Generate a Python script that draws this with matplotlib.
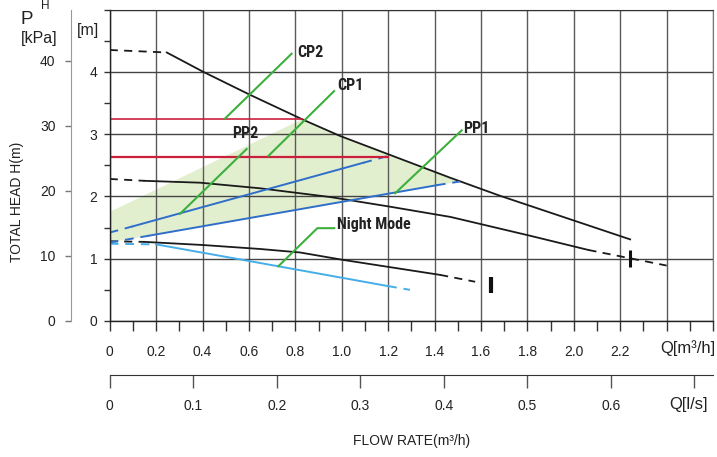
import matplotlib
matplotlib.use('Agg')
import matplotlib.pyplot as plt
from matplotlib.ticker import FixedLocator
from matplotlib import font_manager

# ---------------- data ----------------
# maximum speed curve
max_dash_q = [0.0, 0.246]
max_dash_h = [4.35, 4.31]
max_q = [0.246, 0.403, 0.605, 0.834, 0.993, 1.467, 1.682, 2.243]
max_h = [4.31, 4.00, 3.63, 3.23, 2.97, 2.30, 2.01, 1.31]

# medium speed curve
mid_dash_q = [0.0, 0.15]
mid_dash_h = [2.28, 2.25]
mid_q = [0.15, 0.39, 0.648, 0.95, 1.20, 1.469, 1.81, 2.063]
mid_h = [2.25, 2.22, 2.13, 1.99, 1.84, 1.67, 1.37, 1.14]
mid_tail_q = [2.063, 2.40]
mid_tail_h = [1.14, 0.89]

# minimum speed curve
low_dash_q = [0.0, 0.15]
low_dash_h = [1.28, 1.27]
low_q = [0.15, 0.40, 0.648, 0.82, 1.007, 1.424]
low_h = [1.27, 1.22, 1.156, 1.10, 0.98, 0.74]
low_tail_q = [1.424, 1.575]
low_tail_h = [0.74, 0.63]

# PP2 (proportional pressure 2)
pp2_dash1_q = [0.0, 0.10]
pp2_dash1_h = [1.42, 1.52]
pp2_q = [0.10, 1.093]
pp2_h = [1.52, 2.54]
pp2_dash2_q = [1.093, 1.20]
pp2_dash2_h = [2.54, 2.65]

# PP1 (proportional pressure 1)
pp1_dash1_q = [0.0, 0.17]
pp1_dash1_h = [1.26, 1.37]
pp1_q = [0.17, 1.41]
pp1_h = [1.37, 2.18]
pp1_dash2_q = [1.41, 1.51]
pp1_dash2_h = [2.18, 2.24]

# Night mode
night_dash1_q = [0.0, 0.20]
night_dash1_h = [1.24, 1.23]
night_q = [0.20, 0.605, 1.20]
night_h = [1.23, 0.96, 0.56]
night_dash2_q = [1.20, 1.294]
night_dash2_h = [0.56, 0.50]

# constant pressure lines
cp2_q = [0.0, 0.83]
cp2_h = [3.24, 3.24]
cp1_q = [0.0, 1.20]
cp1_h = [2.64, 2.64]

# shaded operating region
area_q = [0.0, 1.51, 1.467, 0.993, 0.83, 0.0]
area_h = [1.26, 2.24, 2.30, 2.97, 3.24, 1.75]

# end markers
mark_q = [1.642, 2.243]
mark_lo = [0.445, 0.87]
mark_hi = [0.71, 1.14]

# leader lines for labels
lead_cp2_q = [0.497, 0.784]; lead_cp2_h = [3.25, 4.29]
lead_cp1_q = [0.684, 0.967]; lead_cp1_h = [2.65, 3.69]
lead_pp2_q = [0.303, 0.59]; lead_pp2_h = [1.72, 2.76]
lead_pp1_q = [1.23, 1.517]; lead_pp1_h = [2.05, 3.06]
lead_nm_q = [0.727, 0.895, 0.968]; lead_nm_h = [0.88, 1.49, 1.49]

labels = ['CP2', 'CP1', 'PP2', 'PP1', 'Night Mode']
label_q = [0.807, 0.98, 0.527, 1.523, 0.98]
label_h = [4.24, 3.71, 2.93, 3.01, 1.48]

x_ticks = [0, 0.2, 0.4, 0.6, 0.8, 1.0, 1.2, 1.4, 1.6, 1.8, 2.0, 2.2, 2.4, 2.6]
x_ticklabels = ['0', '0.2', '0.4', '0.6', '0.8', '1.0', '1.2', '1.4', '1.6',
                '1.8', '2.0', '2.2', '', '']
x_minor = [0.1, 0.3, 0.5, 0.7, 0.9, 1.1, 1.3, 1.5, 1.7, 1.9, 2.1, 2.3, 2.5]
y_ticks = [0, 1, 2, 3, 4, 5]
y_ticklabels = ['0', '1', '2', '3', '4', '']
y_minor = [0.5, 1.5, 2.5, 3.5, 4.5]
kpa_ticks = [0, 10, 20, 30, 40]
ls_ticks = [0, 0.1, 0.2, 0.3, 0.4, 0.5, 0.6, 0.7]
ls_ticklabels = ['0', '0.1', '0.2', '0.3', '0.4', '0.5', '0.6', '']

# ---------------- style ----------------
W, H = 717, 457
FONT = ['Liberation Sans', 'DejaVu Sans']
plt.rcParams['font.family'] = FONT

# pick a condensed bold face for the curve labels if one is installed
names = {f.name for f in font_manager.fontManager.ttflist}
cond = [n for n in ['Liberation Sans Narrow', 'DejaVu Sans Condensed',
                    'Roboto Condensed', 'Open Sans Condensed'] if n in names]
has_dv_cond = any(f.name == 'DejaVu Sans' and f.stretch in ('condensed', 'semi-condensed', 600, 500)
                  and f.weight in ('bold', 700) for f in font_manager.fontManager.ttflist)
if cond:
    BOLD_KW = dict(family=[cond[0]] + FONT, weight='bold', fontsize=11.5)
elif has_dv_cond:
    BOLD_KW = dict(family=['DejaVu Sans'], weight='bold', stretch='condensed', fontsize=10.5)
else:
    BOLD_KW = dict(family=FONT, weight='bold', fontsize=11)

BLACK = '#1a1a1a'
BLUE = '#2f6fc9'
LBLUE = '#45aee8'
RED = '#cc1f3c'
GREEN = '#3caf3c'
FILL = '#e2efcf'
DASH = (0, (4.5, 3.5))

fig = plt.figure(figsize=(W / 100, H / 100), dpi=100)


def fx(px):
    return px / W


def fy(py):
    return 1 - py / H


x0px, x1px, ytop, ybot = 109.7, 713.0, 9.5, 321.0
ax = fig.add_axes([fx(x0px), fy(ybot), (x1px - x0px) / W, (ybot - ytop) / H])
ax.set_xlim(0, 2.6)
ax.set_ylim(0, 5)
ax.set_axisbelow(True)

# grid
ax.xaxis.set_major_locator(FixedLocator(x_ticks))
ax.xaxis.set_minor_locator(FixedLocator(x_minor))
ax.set_xticklabels(x_ticklabels)
ax.yaxis.set_major_locator(FixedLocator(y_ticks))
ax.yaxis.set_minor_locator(FixedLocator(y_minor))
ax.set_yticklabels(y_ticklabels)
ax.grid(axis='x', which='major', color='#5a5a5a', lw=1.0)
ax.grid(axis='y', which='major', color='#444444', lw=1.0)

ax.tick_params(axis='x', which='both', direction='out', length=7, width=1,
               color='#333333', pad=10, labelsize=10, labelcolor='#222222')
ax.tick_params(axis='y', which='both', direction='out', length=4, width=1,
               color='#333333', pad=5, labelsize=10, labelcolor='#222222')
for s in ['left', 'bottom']:
    ax.spines[s].set_color('#222222')
    ax.spines[s].set_linewidth(1.0)
ax.spines['top'].set_color('#333333')
ax.spines['right'].set_color('#777777')

# shaded area
ax.fill(area_q, area_h, color=FILL, lw=0, zorder=0.3)

# curves
lw = 1.3
ax.plot(max_dash_q, max_dash_h, color=BLACK, lw=lw, ls=DASH)
ax.plot(max_q, max_h, color=BLACK, lw=lw)
ax.plot(mid_dash_q, mid_dash_h, color=BLACK, lw=lw, ls=DASH)
ax.plot(mid_q, mid_h, color=BLACK, lw=lw)
ax.plot(mid_tail_q, mid_tail_h, color=BLACK, lw=lw, ls=DASH)
ax.plot(low_dash_q, low_dash_h, color=BLACK, lw=lw, ls=DASH)
ax.plot(low_q, low_h, color=BLACK, lw=lw)
ax.plot(low_tail_q, low_tail_h, color=BLACK, lw=lw, ls=DASH)

ax.plot(pp2_dash1_q, pp2_dash1_h, color=BLUE, lw=1.4, ls=DASH)
ax.plot(pp2_q, pp2_h, color=BLUE, lw=1.4)
ax.plot(pp2_dash2_q, pp2_dash2_h, color=BLUE, lw=1.4, ls=DASH)
ax.plot(pp1_dash1_q, pp1_dash1_h, color=BLUE, lw=1.4, ls=DASH)
ax.plot(pp1_q, pp1_h, color=BLUE, lw=1.4)
ax.plot(pp1_dash2_q, pp1_dash2_h, color=BLUE, lw=1.4, ls=DASH)

ax.plot(night_dash1_q, night_dash1_h, color=LBLUE, lw=1.4, ls=DASH)
ax.plot(night_q, night_h, color=LBLUE, lw=1.4)
ax.plot(night_dash2_q, night_dash2_h, color=LBLUE, lw=1.4, ls=DASH)

ax.plot(cp2_q, cp2_h, color=RED, lw=1.2)
ax.plot(cp1_q, cp1_h, color=RED, lw=1.6)

ax.vlines([mark_q[0]], [mark_lo[0]], [mark_hi[0]], color='#111111', lw=3.0)
ax.vlines([mark_q[1]], [mark_lo[1]], [mark_hi[1]], color='#111111', lw=2.2)

for lq, lh in [(lead_cp2_q, lead_cp2_h), (lead_cp1_q, lead_cp1_h),
               (lead_pp2_q, lead_pp2_h), (lead_pp1_q, lead_pp1_h),
               (lead_nm_q, lead_nm_h)]:
    ax.plot(lq, lh, color=GREEN, lw=1.5)

for t, q, h in zip(labels, label_q, label_h):
    ax.text(q, h, t, color='#222222', ha='left', va='baseline', **BOLD_KW)

# kPa axis
kh = (ybot - ytop) / H
axk = fig.add_axes([fx(70.7), fy(ybot), 0.0001, kh])
axk.set_ylim(0, 47.9)
axk.set_xticks([])
axk.set_yticks(kpa_ticks)
axk.patch.set_visible(False)
for s in ['top', 'right', 'bottom']:
    axk.spines[s].set_visible(False)
axk.spines['left'].set_color('#999999')
axk.tick_params(axis='y', direction='out', length=4, width=1, color='#777777',
                pad=7, labelsize=10, labelcolor='#222222')

# l/s axis
axs = fig.add_axes([fx(x0px), fy(375), (x1px - x0px) / W, 0.0001])
axs.set_xlim(0, 2.6 / 3.6)
axs.set_yticks([])
axs.patch.set_visible(False)
for s in ['top', 'left', 'right']:
    axs.spines[s].set_visible(False)
axs.spines['bottom'].set_color('#333333')
axs.set_xticks(ls_ticks)
axs.set_xticklabels(ls_ticklabels)
axs.tick_params(axis='x', direction='out', length=9, width=1, color='#555555',
                pad=8, labelsize=10, labelcolor='#222222')

# texts
def ftext(px, py, s, **kw):
    fig.text(fx(px), fy(py), s, ha='center', va='center', color='#222222', **kw)


ftext(27, 19, 'P', fontsize=13.5)
ftext(45.5, 6, 'H', fontsize=8.5)
ftext(39, 38, '[kPa]', fontsize=11.5)
ftext(88, 31, '[m]', fontsize=11.5)
ftext(17, 202, 'TOTAL HEAD H(m)', fontsize=10, rotation=90)
ftext(412, 441, 'FLOW RATE(m³/h)', fontsize=10)
ftext(688, 348, 'Q[m³/h]', fontsize=12)
ftext(689, 404, 'Q[l/s]', fontsize=12)

fig.savefig('out.png', dpi=100)
